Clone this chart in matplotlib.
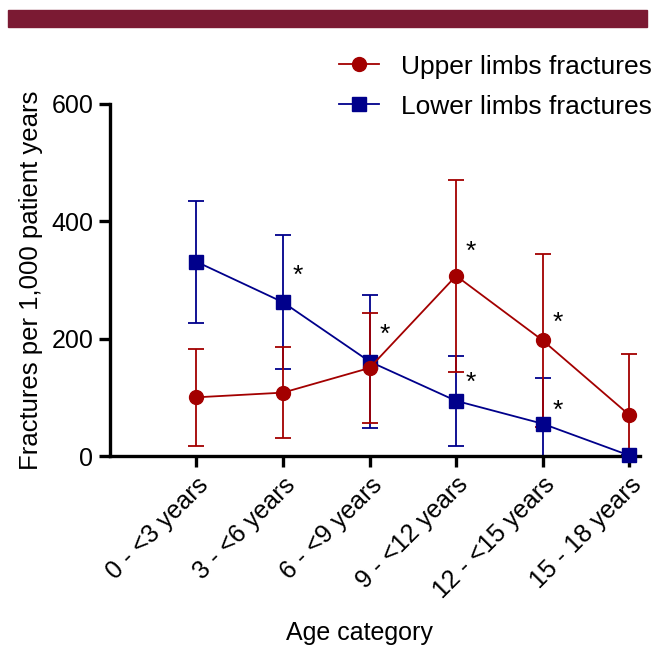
import matplotlib.pyplot as plt
from matplotlib.patches import Rectangle

# ================================
# Data
# ================================
age_labels = ["0 - <3 years", "3 - <6 years", "6 - <9 years",
              "9 - <12 years", "12 - <15 years", "15 - 18 years"]

upper_mean = [100, 108, 150, 307, 197, 70]
upper_err = [83, 77, 94, 164, 148, 104]

lower_mean = [331, 262, 161, 94, 55, 1]
lower_err = [104, 114, 113, 77, 78, 0]

# significance marks: (category index, value)
star_x = [1, 2, 3, 3, 4, 4]
star_y = [307, 206, 348, 124, 227, 77]

red = "#A30000"
blue = "#00008B"

plt.rcParams["font.family"] = ["Liberation Sans", "DejaVu Sans"]

fig = plt.figure(figsize=(6.54, 6.45), dpi=100)
ax = fig.add_axes([0.168, 0.293, 0.81, 0.546])

x = list(range(len(age_labels)))

# lower limbs first, upper limbs drawn on top
ax.errorbar(x, lower_mean, yerr=lower_err, fmt="none", ecolor=blue,
            elinewidth=1.3, capsize=6, capthick=1.3)
ax.plot(x, lower_mean, color=blue, lw=1.3, marker="s", ms=10,
        clip_on=False, zorder=3, label="Lower limbs fractures")

ax.errorbar(x, upper_mean, yerr=upper_err, fmt="none", ecolor=red,
            elinewidth=1.3, capsize=6, capthick=1.3)
ax.plot(x, upper_mean, color=red, lw=1.3, marker="o", ms=10,
        clip_on=False, zorder=4, label="Upper limbs fractures")

for sx, sy in zip(star_x, star_y):
    ax.text(sx + 0.17, sy, "*", fontsize=19, ha="center", va="center")

ax.set_xlim(-1.0, 5.12)
ax.set_ylim(0, 600)
ax.set_yticks([0, 200, 400, 600])
ax.set_xticks(x)
ax.set_xticklabels(age_labels, rotation=45, ha="right",
                   rotation_mode="anchor")

for side in ["top", "right"]:
    ax.spines[side].set_visible(False)
for side in ["left", "bottom"]:
    ax.spines[side].set_linewidth(2.4)
ax.tick_params(width=2.4, length=8, labelsize=18, pad=4)

ax.set_ylabel("Fractures per 1,000 patient years", fontsize=18.5, labelpad=6)

handles, labels = ax.get_legend_handles_labels()
fig.legend(handles[::-1], labels[::-1], loc="upper right",
           bbox_to_anchor=(1.033, 0.952), frameon=False, fontsize=19,
           handlelength=1.5, handletextpad=0.85, labelspacing=0.6)

fig.text(0.55, 0.037, "Age category", fontsize=18, ha="center", va="top")

# top banner
fig.patches.append(Rectangle((0.012, 0.958), 0.977, 0.026,
                             transform=fig.transFigure, color="#7B1A33"))

plt.savefig("out.png", dpi=100)
